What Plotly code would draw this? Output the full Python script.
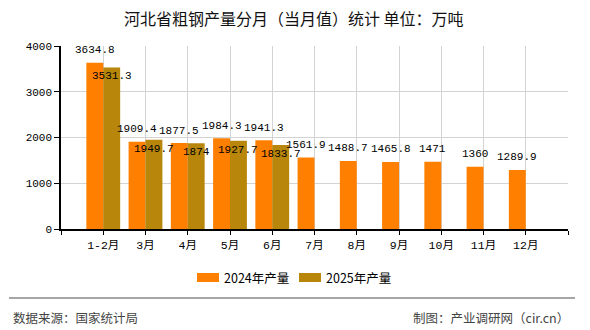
import plotly.graph_objects as go

categories = ["1-2月", "3月", "4月", "5月", "6月", "7月", "8月", "9月", "10月", "11月", "12月"]
values_2024 = [3634.8, 1909.4, 1877.5, 1984.3, 1941.3, 1561.9, 1488.7, 1465.8, 1471, 1360, 1289.9]
values_2025 = [3531.3, 1949.7, 1874, 1927.7, 1833.7]
series_names = ["2024年产量", "2025年产量"]
y_ticks = [0, 1000, 2000, 3000, 4000]

C24 = "#FF8000"
C25 = "#B8860B"
MONO = "Liberation Mono, Noto Sans CJK SC, monospace"
CJK = "Noto Sans CJK SC, sans-serif"

L, R, T, B = 61, 568, 46, 229
PW, PH = R - L, B - T

def px(x):
    return (x - L) / PW

def py(y):
    return (B - y) / PH

def fmt(v):
    return ("%g" % v)

xs24 = list(range(len(values_2024)))
xs25 = list(range(len(values_2025)))

fig = go.Figure()
fig.add_trace(go.Bar(x=xs24, y=values_2024, name=series_names[0], marker=dict(color=C24, line=dict(width=0))))
fig.add_trace(go.Bar(x=xs25, y=values_2025, name=series_names[1], marker=dict(color=C25, line=dict(width=0))))

ann = []
for i, v in enumerate(values_2024):
    ann.append(dict(x=i - 0.2, y=v, text=fmt(v), showarrow=False, yanchor="middle", xanchor="center",
                    yshift=12.5, font=dict(family=MONO, size=11, color="#000")))
for i, v in enumerate(values_2025):
    ann.append(dict(x=i + 0.2, y=v, text=fmt(v), showarrow=False, yanchor="middle", xanchor="center",
                    yshift=-9, font=dict(family=MONO, size=11, color="#000")))

# title
ann.append(dict(xref="paper", yref="paper", x=px(294), y=py(18),
                text="河北省粗钢产量分月（当月值）统计 单位：万吨", showarrow=False,
                xanchor="center", yanchor="middle", font=dict(family=CJK, size=16, color="#111")))
# footer
ann.append(dict(xref="paper", yref="paper", x=px(11), y=py(317),
                text="数据来源：国家统计局", showarrow=False, xanchor="left", yanchor="middle",
                font=dict(family=CJK, size=12.5, color="#444")))
ann.append(dict(xref="paper", yref="paper", x=px(571), y=py(317),
                text="制图：产业调研网（cir.cn）", showarrow=False, xanchor="right", yanchor="middle",
                font=dict(family=CJK, size=12.5, color="#444")))

shapes = [dict(type="line", xref="paper", yref="paper",
               x0=px(9), x1=px(575), y0=py(298), y1=py(298),
               line=dict(color="#888", width=1.5))]

# legend (custom swatches)
legend_x = [197, 299]
for name, col, lx in zip(series_names, [C24, C25], legend_x):
    shapes.append(dict(type="rect", xref="paper", yref="paper",
                       x0=px(lx), x1=px(lx + 22), y0=py(282), y1=py(273),
                       fillcolor=col, line=dict(width=0)))
    ann.append(dict(xref="paper", yref="paper", x=px(lx + 25), y=py(277.5), text=name,
                    showarrow=False, xanchor="left", yanchor="middle",
                    font=dict(family=CJK, size=12.5, color="#000")))

fig.update_layout(
    width=590, height=330,
    margin=dict(l=L, r=590 - R, t=T, b=330 - B),
    paper_bgcolor="white", plot_bgcolor="white",
    barmode="group", bargap=0.2, bargroupgap=0,
    showlegend=False,
    annotations=ann, shapes=shapes,
    xaxis=dict(range=[-1, 11], tickmode="array", tickvals=list(range(-1, 12)),
               ticktext=[""] + categories + [""],
               showgrid=True, gridcolor="#d3d3d3", gridwidth=1,
               showline=True, linecolor="#000", linewidth=1.5,
               ticks="outside", ticklen=4, tickcolor="#000",
               tickfont=dict(family=MONO, size=11.5, color="#000"), zeroline=False),
    yaxis=dict(range=[0, 4000], tickmode="array", tickvals=y_ticks,
               showgrid=True, gridcolor="#d3d3d3", gridwidth=1,
               showline=True, linecolor="#000", linewidth=1.5,
               ticks="outside", ticklen=5, tickcolor="#000",
               tickfont=dict(family=MONO, size=11, color="#000"), zeroline=False),
)

fig.write_html("out.html")
